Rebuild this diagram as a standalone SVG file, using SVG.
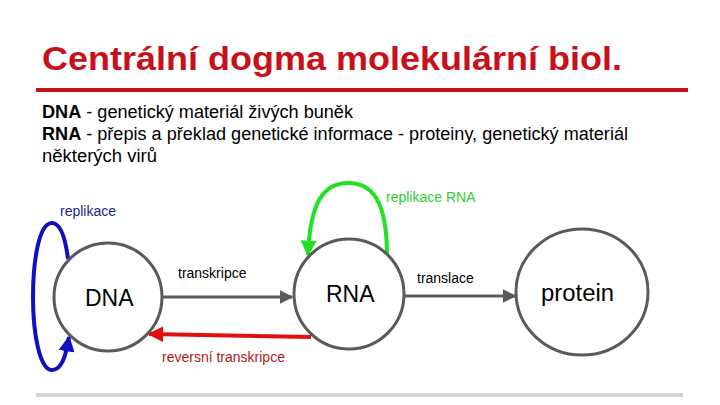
<svg xmlns="http://www.w3.org/2000/svg" width="720" height="405" viewBox="0 0 720 405">
<style>
text{font-family:"Liberation Sans",Arial,sans-serif}
.node{fill:#fff;stroke:#5a5a5a;stroke-width:3}
.nl{font-size:23px;fill:#000}
.lbl{font-size:14px}
.body{font-size:18px;fill:#000}
</style>
<defs>
<marker id="ag" viewBox="0 0 10 10" refX="9" refY="5" markerWidth="4.5" markerHeight="4.5" orient="auto" markerUnits="strokeWidth"><path d="M0,0L10,5L0,10z" fill="#5a5a5a"/></marker>
<marker id="ar" viewBox="0 0 10 10" refX="9" refY="5" markerWidth="4" markerHeight="4" orient="auto" markerUnits="strokeWidth"><path d="M0,0L10,5L0,10z" fill="#e01010"/></marker>
<marker id="agr" viewBox="0 0 10 10" refX="9" refY="5" markerWidth="4" markerHeight="4" orient="auto" markerUnits="strokeWidth"><path d="M0,0L10,5L0,10z" fill="#22e022"/></marker>
<marker id="ab" viewBox="0 0 10 10" refX="9" refY="5" markerWidth="4" markerHeight="4" orient="auto" markerUnits="strokeWidth"><path d="M0,0L10,5L0,10z" fill="#1010c0"/></marker>
</defs>
<rect width="720" height="405" fill="#fff"/>
<text x="42" y="70" font-size="34" font-weight="bold" fill="#c8101a" textLength="580" lengthAdjust="spacingAndGlyphs">Centrální dogma molekulární biol.</text>
<rect x="36" y="88" width="652" height="4" fill="#c8101a"/>
<text class="body" x="42" y="118" textLength="311" lengthAdjust="spacingAndGlyphs"><tspan font-weight="bold">DNA</tspan> - genetický materiál živých buněk</text>
<text class="body" x="42" y="140" textLength="586" lengthAdjust="spacingAndGlyphs"><tspan font-weight="bold">RNA</tspan> - přepis a překlad genetické informace - proteiny, genetický materiál</text>
<text class="body" x="42" y="162" textLength="115" lengthAdjust="spacingAndGlyphs">některých virů</text>
<g id="connectors" fill="none">
<line x1="163" y1="297" x2="292" y2="297" stroke="#5a5a5a" stroke-width="3" marker-end="url(#ag)"/>
<line x1="404" y1="296" x2="515" y2="296" stroke="#5a5a5a" stroke-width="3" marker-end="url(#ag)"/>
<line x1="311" y1="337" x2="149" y2="334" stroke="#e01010" stroke-width="4" marker-end="url(#ar)"/>
<path d="M387,256 C387,200 372,183 348,183 C322,183 310,205 308,255" stroke="#22e022" stroke-width="4" marker-end="url(#agr)"/>
<path d="M68,259 C65,235 60,223 52,223 C38,223 33,265 33,297 C33,335 40,370 52,370 C62,370 66,355 69,337" stroke="#1010c0" stroke-width="4" marker-end="url(#ab)"/>
</g>
<text class="lbl" x="178" y="278" fill="#000">transkripce</text>
<text class="lbl" x="417" y="283" fill="#000">translace</text>
<text class="lbl" x="162" y="362" fill="#b01818">reversní transkripce</text>
<text class="lbl" x="386" y="202" fill="#33cc33">replikace RNA</text>
<text class="lbl" x="60" y="216" fill="#1a2a8a">replikace</text>
<g id="node-dna"><circle class="node" cx="108" cy="297" r="54"/><text class="nl" x="85" y="306">DNA</text></g>
<g id="node-rna"><circle class="node" cx="349" cy="294" r="55"/><text class="nl" x="326" y="302">RNA</text></g>
<g id="node-protein"><ellipse class="node" cx="582" cy="292" rx="66" ry="63"/><text class="nl" x="541" y="301" textLength="73" lengthAdjust="spacingAndGlyphs">protein</text></g>
<rect x="36" y="393" width="647" height="4" fill="#d3d3d3"/>
</svg>
